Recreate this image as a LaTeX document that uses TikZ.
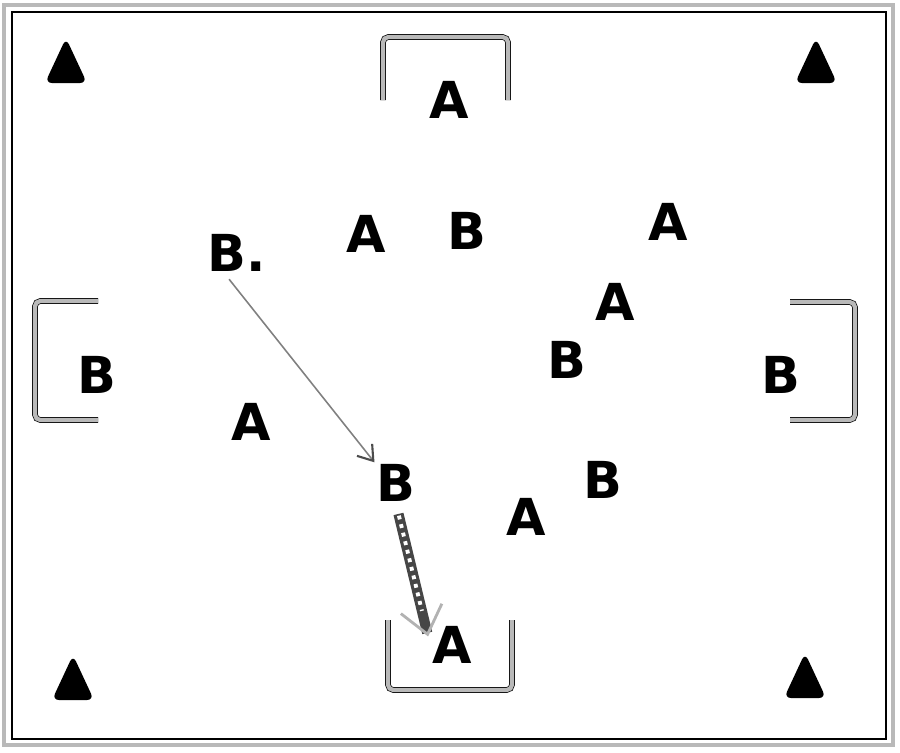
\documentclass[tikz,border=0pt]{standalone}
\usepackage{fontspec}
\setmainfont{DejaVu Sans}
\usetikzlibrary{arrows.meta}

\tikzset{
    player/.style={font=\bfseries\fontsize{29}{29}\selectfont, inner sep=1pt},
    goal/.style={draw=black, line width=0.4pt, double=gray!55, double distance=2.4pt, rounded corners=3pt},
    cone/.style={fill=black, rounded corners=4pt},
    pass/.style={gray, line width=0.9pt, -{Straight Barb[length=8pt, width=11pt, line width=1.2pt, black!70]}},
    dribble/.style={gray!55!black, line width=5.8pt, -{Straight Barb[length=15pt, width=24pt, line width=1.6pt, gray!60]}},
    dribbledots/.style={white, line width=2.2pt, dash pattern=on 2.2pt off 2.8pt}
}

\begin{document}
\begin{tikzpicture}[x=0.02cm, y=-0.02cm]
    \useasboundingbox (0,0) rectangle (900,752);

    % Field
    \draw[goal, rounded corners=0pt, double distance=1.8pt] (4,5) rectangle (893,745);
    \draw[black, line width=0.8pt] (12,12) rectangle (886,739);

    % Goals
    \draw[goal] (383,100) -- (383,37) -- (508,37) -- (508,100);
    \draw[goal] (388,620) -- (388,690) -- (512,690) -- (512,620);
    \draw[goal] (98,301) -- (35,301) -- (35,420) -- (98,420);
    \draw[goal] (790,302) -- (855,302) -- (855,420) -- (790,420);

    % Cones
    \foreach \cx/\cy in {66/62, 816/62, 73/679, 805/677}
        \fill[cone] (\cx-21,\cy+21) -- (\cx,\cy-24) -- (\cx+21,\cy+21) -- cycle;

    % Players
    \node[player] (agoaltop) at (449,100) {A};
    \node[player] (a1) at (366,234) {A};
    \node[player] (b1) at (467,231) {B};
    \node[player] (bdot) at (237,253) {B.};
    \node[player] (a2) at (668,222) {A};
    \node[player] (a3) at (615,302) {A};
    \node[player] (b2) at (567,360) {B};
    \node[player] (bleft) at (97,375) {B};
    \node[player] (bright) at (781,375) {B};
    \node[player] (a4) at (251,422) {A};
    \node[player] (bmid) at (396,483) {B};
    \node[player] (b3) at (603,480) {B};
    \node[player] (a5) at (526,517) {A};
    \node[player] (agoalbot) at (452,645) {A};

    % Pass and dribble
    \draw[pass, shorten <=4pt] ([xshift=-7pt]bdot.south) -- (bmid.north west);
    \draw[dribble, shorten <=6pt, shorten >=5pt] (bmid.south) -- (agoalbot.west);
    \draw[dribbledots, shorten <=7pt, shorten >=20pt] (bmid.south) -- (agoalbot.west);
\end{tikzpicture}
\end{document}
